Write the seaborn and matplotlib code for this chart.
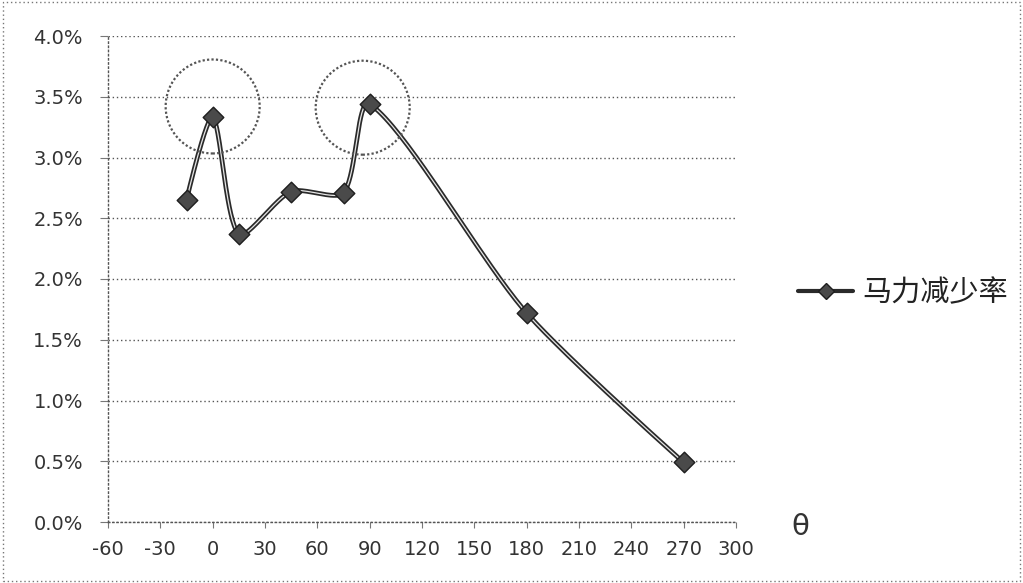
import numpy as np
import pandas as pd
import matplotlib
matplotlib.use("Agg")
import matplotlib.pyplot as plt
from matplotlib.patches import Ellipse, Rectangle
from matplotlib.lines import Line2D
from matplotlib.ticker import PercentFormatter
import seaborn as sns

# Horsepower reduction rate versus angle theta
theta = [-15, 0, 15, 45, 75, 90, 180, 270]
reduction = [0.0265, 0.0333, 0.0237, 0.0272, 0.0271, 0.0344, 0.0172, 0.0049]
series_name = "马力减少率"
x_ticks = list(range(-60, 301, 30))
y_ticks = [0.0, 0.005, 0.010, 0.015, 0.020, 0.025, 0.030, 0.035, 0.040]
axis_label = "θ"

# Highlighted peaks (centre x, centre y)
highlight_x = [0, 86]
highlight_y = [0.0342, 0.0341]

sns.set_theme(style="white")
plt.rcParams["font.family"] = ["DejaVu Sans", "Noto Sans CJK SC"]
plt.rcParams["axes.unicode_minus"] = False

W, H = 1023, 583
AX_L, AX_R, AX_T, AX_B = 108, 736, 36, 522
fig = plt.figure(figsize=(W / 100, H / 100), dpi=100)
ax = fig.add_axes([AX_L / W, 1 - AX_B / H, (AX_R - AX_L) / W, (AX_B - AX_T) / H])

XMIN, XMAX, YMIN, YMAX = -60, 300, 0.0, 0.04
sx = (AX_R - AX_L) / (XMAX - XMIN)
sy = (AX_B - AX_T) / (YMAX - YMIN)


def smooth_curve(xs, ys, tension=0.4, steps=40):
    """Bezier smoothing through each point, with control arms scaled by
    neighbouring segment lengths measured on screen."""
    p = np.column_stack([np.asarray(xs, float) * sx, np.asarray(ys, float) * sy])
    n = len(p)
    out = [p[0]]
    t = np.linspace(0, 1, steps)[1:, None]

    def arms(i):
        if i == 0 or i == n - 1:
            return np.zeros(2), np.zeros(2)
        d0 = np.linalg.norm(p[i] - p[i - 1])
        d1 = np.linalg.norm(p[i + 1] - p[i])
        tang = (p[i + 1] - p[i - 1]) / (d0 + d1)
        return tang * d0 * tension * 2 / 3, tang * d1 * tension * 2 / 3

    for i in range(n - 1):
        _, fwd = arms(i)
        back, _ = arms(i + 1)
        p1, p2 = p[i], p[i + 1]
        c1 = p1 + fwd
        c2 = p2 - back
        seg = ((1 - t) ** 3) * p1 + 3 * ((1 - t) ** 2) * t * c1 + 3 * (1 - t) * t ** 2 * c2 + t ** 3 * p2
        out.extend(seg)
    out = np.array(out)
    return out[:, 0] / sx, out[:, 1] / sy


cx, cy = smooth_curve(theta, reduction)
curve = pd.DataFrame({"theta": cx, "rate": cy})
points = pd.DataFrame({"theta": theta, "rate": reduction})

# Double-stroked line: dark outer stroke with a light core
sns.lineplot(data=curve, x="theta", y="rate", ax=ax, color="#2a2a2a", lw=3.4,
             sort=False, estimator=None, zorder=3)
sns.lineplot(data=curve, x="theta", y="rate", ax=ax, color="#e6e6e6", lw=0.9,
             sort=False, estimator=None, zorder=4)
sns.scatterplot(data=points, x="theta", y="rate", ax=ax, marker="D", s=110,
                color="#4a4a4a", edgecolor="#1e1e1e", linewidth=1.0, zorder=5)

# Dotted circles around the two peaks (radius ~47 px)
rx = 47 / sx
ry = 47 / sy
for hx, hy in zip(highlight_x, highlight_y):
    ax.add_patch(Ellipse((hx, hy), 2 * rx, 2 * ry, fill=False, ls=(0, (1, 1)),
                         lw=1.6, ec="#555555", zorder=6))

ax.set_xlim(XMIN, XMAX)
ax.set_ylim(YMIN, YMAX)
ax.set_xticks(x_ticks)
ax.set_yticks(y_ticks)
ax.yaxis.set_major_formatter(PercentFormatter(1.0, decimals=1))
ax.set_xlabel("")
ax.set_ylabel("")
ax.grid(axis="y", ls=(0, (1, 2)), color="#555555", lw=1.0)
ax.grid(axis="x", visible=False)
for side in ["top", "right"]:
    ax.spines[side].set_visible(False)
for side in ["left", "bottom"]:
    ax.spines[side].set_linestyle((0, (1, 2)))
    ax.spines[side].set_color("#555555")
    ax.spines[side].set_linewidth(1.0)
ax.tick_params(axis="y", length=6, width=0.8, color="#777777", labelsize=14,
               labelcolor="#333333", pad=12, left=True)
ax.tick_params(axis="x", length=4, width=0.8, color="#777777", labelsize=14,
               labelcolor="#333333", pad=9, bottom=True)
ax.set_facecolor("white")

# Axis symbol
fig.text(800 / W, 1 - 527 / H, axis_label, fontsize=21, color="#333333",
         ha="center", va="center")

# Legend on the right
handle = Line2D([], [], color="#2a2a2a", lw=3.0, marker="D", markersize=8,
                markerfacecolor="#4a4a4a", markeredgecolor="#1e1e1e")
fig.legend([handle], [series_name], loc="center left",
           bbox_to_anchor=(798 / W, 1 - 293 / H), frameon=False,
           prop={"family": ["Noto Sans CJK SC"], "size": 21},
           handlelength=1.9, handletextpad=0.3, borderpad=0, borderaxespad=0,
           labelcolor="#222222")

# Outer dotted frame
fig.patches.append(Rectangle((0.003, 0.004), 0.994, 0.992, transform=fig.transFigure,
                             fill=False, ls=(0, (1, 2)), lw=1.0, ec="#777777"))

fig.savefig("out.png", dpi=100, facecolor="white")
